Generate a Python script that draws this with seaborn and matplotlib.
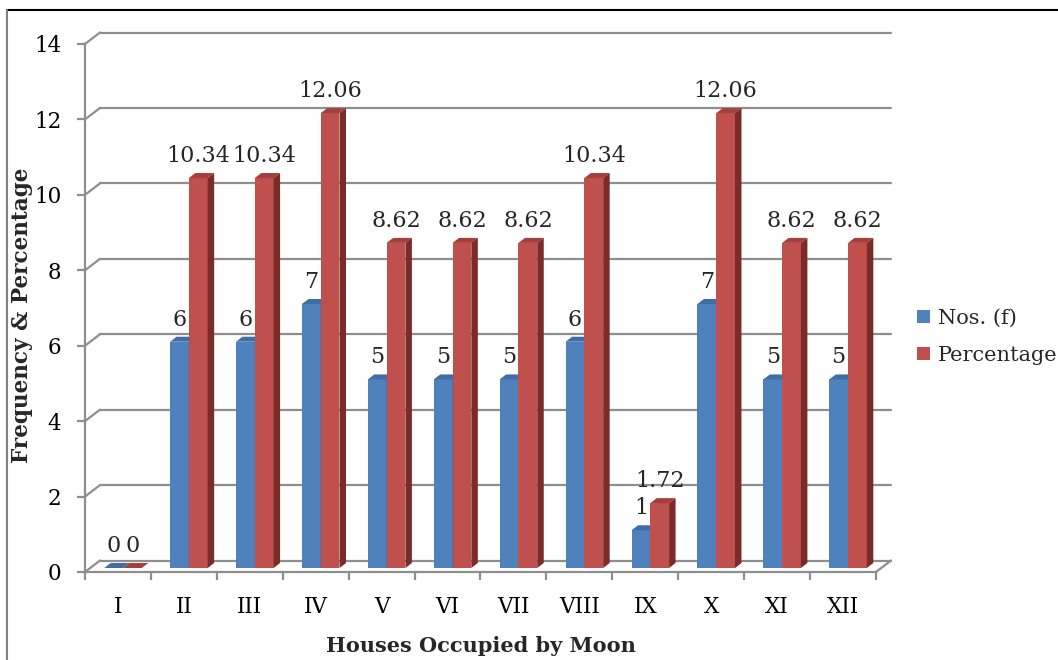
import numpy as np
import pandas as pd
import seaborn as sns
import matplotlib.pyplot as plt
from matplotlib.patches import Polygon, Patch
from matplotlib.lines import Line2D
from matplotlib.transforms import offset_copy

houses = ['I', 'II', 'III', 'IV', 'V', 'VI', 'VII', 'VIII', 'IX', 'X', 'XI', 'XII']
nos = [0, 6, 6, 7, 5, 5, 5, 6, 1, 7, 5, 5]
pct = [0, 10.34, 10.34, 12.06, 8.62, 8.62, 8.62, 10.34, 1.72, 12.06, 8.62, 8.62]
series = ['Nos. (f)', 'Percentage']

front = ['#4F81BD', '#C0504D']
top = ['#3F6DA6', '#A33F3C']
side = ['#34598A', '#7B2C2A']
grid_c = '#8E8E8E'

df = pd.DataFrame({
    'House': houses * 2,
    'Series': [series[0]] * len(houses) + [series[1]] * len(houses),
    'Value': nos + pct,
})

sns.set_theme(style='white')
plt.rcParams['font.family'] = ['DejaVu Serif']

fig = plt.figure(figsize=(10.58, 6.6), dpi=100)
W, H = 1058, 660
ax = fig.add_axes([85 / W, (H - 572) / H, (876 - 85) / W, (572 - 44) / H])

sns.barplot(data=df, x='House', y='Value', hue='Series', palette=front,
            width=0.57, saturation=1, linewidth=0, legend=False, ax=ax)
ax.set_xlim(-0.5, 11.5)
ax.set_ylim(0, 14)

# pixel -> data unit sizes
p0 = ax.transData.transform((0, 0))
p1 = ax.transData.transform((1, 1))
ux = 1 / (p1[0] - p0[0])
uy = 1 / (p1[1] - p0[1])

# back wall (depth) and bar depth, in pixels
wall_dx, wall_dy = 15, 11.5
bar_dx, bar_dy = 6.5, 5
shift = offset_copy(ax.transData, fig=fig, x=5, y=4, units='dots')
back = offset_copy(ax.transData, fig=fig, x=wall_dx, y=wall_dy, units='dots')

# gridlines on back wall + left diagonals
for v in range(0, 15, 2):
    ax.plot([-0.5, 11.5], [v, v], color=grid_c, lw=1.6, transform=back,
            zorder=0.5, clip_on=False)
    ax.plot([-0.5, -0.5 + wall_dx * ux], [v, v + wall_dy * uy], color=grid_c,
            lw=1.6, zorder=0.5, clip_on=False)
ax.plot([11.5, 11.5 + wall_dx * ux], [0, wall_dy * uy], color=grid_c,
        lw=1.6, zorder=0.5, clip_on=False)

# 3d-ish bars
for i, cont in enumerate(ax.containers):
    z = 2 + i
    for bar in cont:
        bar.set_transform(shift)
        bar.set_zorder(z)
        bar.set_clip_on(False)
        x0, x1 = bar.get_x(), bar.get_x() + bar.get_width()
        yt = bar.get_height()
        ddx, ddy = bar_dx * ux, bar_dy * uy
        ax.add_patch(Polygon([(x0, yt), (x1, yt), (x1 + ddx, yt + ddy), (x0 + ddx, yt + ddy)],
                             closed=True, fc=top[i], ec='none', transform=shift,
                             zorder=z + 0.1, clip_on=False))
        ax.add_patch(Polygon([(x1, 0), (x1, yt), (x1 + ddx, yt + ddy), (x1 + ddx, ddy)],
                             closed=True, fc=side[i], ec='none', transform=shift,
                             zorder=z + 0.1, clip_on=False))
        lab = offset_copy(ax.transData, fig=fig, x=5, y=20, units='dots')
        ax.text((x0 + x1) / 2, yt, f'{yt:g}', transform=lab, ha='center',
                va='baseline', fontsize=16, zorder=6)

# axes styling
for s in ['top', 'right']:
    ax.spines[s].set_visible(False)
for s in ['left', 'bottom']:
    ax.spines[s].set_color(grid_c)
    ax.spines[s].set_linewidth(1.6)
    ax.spines[s].set_zorder(1)

ax.set_yticks(range(0, 15, 2))
ax.set_xticks(range(len(houses)))
ax.set_xticklabels(houses)
ax.set_xticks(np.arange(-0.5, 12, 1), minor=True)
ax.tick_params(axis='y', length=6, width=1.6, color=grid_c, pad=11,
               labelsize=15.5, labelcolor='black', left=True)
ax.tick_params(axis='x', which='major', length=0, pad=17, labelsize=15.5,
               labelcolor='black')
ax.tick_params(axis='x', which='minor', length=6, width=1.6, color=grid_c,
               bottom=True)
ax.set_ylabel('')
ax.set_xlabel('Houses Occupied by Moon', fontsize=15, fontweight='bold',
              labelpad=13)
fig.text(22 / W, 1 - 315 / H, 'Frequency & Percentage', rotation=90,
         ha='center', va='center', fontsize=15.5, fontweight='bold')

handles = [Patch(fc=front[0], ec='none'), Patch(fc=front[1], ec='none')]
fig.legend(handles, series, loc='center left',
           bbox_to_anchor=(917 / W, 1 - 337 / H), frameon=False,
           fontsize=15, handlelength=0.6, handleheight=0.6,
           handletextpad=0.4, labelspacing=0.85, borderpad=0, borderaxespad=0)

# outer frame (top and left edges)
fig.add_artist(Line2D([7 / W, 1], [1 - 10 / H, 1 - 10 / H], color='black',
                      lw=1.5, transform=fig.transFigure))
fig.add_artist(Line2D([7 / W, 7 / W], [0, 1 - 10 / H], color='#7F7F7F',
                      lw=1.5, transform=fig.transFigure))

fig.savefig('out.png', dpi=100)
